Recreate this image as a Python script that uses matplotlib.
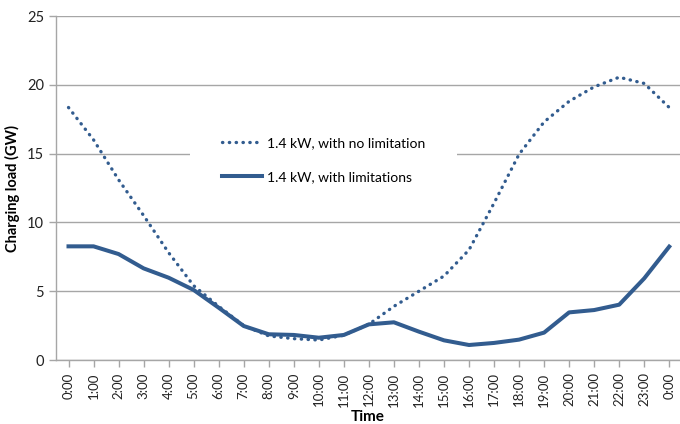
import matplotlib
matplotlib.use("Agg")
import matplotlib.pyplot as plt

plt.rcParams['font.family'] = ['Lato', 'DejaVu Sans']

hours = ["0:00", "1:00", "2:00", "3:00", "4:00", "5:00", "6:00", "7:00", "8:00",
         "9:00", "10:00", "11:00", "12:00", "13:00", "14:00", "15:00", "16:00",
         "17:00", "18:00", "19:00", "20:00", "21:00", "22:00", "23:00", "0:00"]

no_limitation = [18.35, 16.0, 13.1, 10.5, 7.8, 5.4, 3.9, 2.5, 1.75, 1.55, 1.45,
                 1.8, 2.6, 3.9, 5.0, 6.1, 8.0, 11.4, 14.95, 17.3, 18.8, 19.85,
                 20.55, 20.1, 18.35]

with_limitations = [8.26, 8.26, 7.7, 6.66, 5.98, 5.09, 3.8, 2.47, 1.87, 1.82, 1.62,
                    1.82, 2.59, 2.74, 2.06, 1.43, 1.09, 1.24, 1.48, 1.99, 3.46,
                    3.63, 4.02, 5.93, 8.24]

labels = ["1.4 kW, with no limitation", "1.4 kW, with limitations"]

line_color = "#325C8F"
grid_color = "#A6A6A6"

fig = plt.figure(figsize=(6.8, 4.24), dpi=100)
ax = fig.add_axes([56 / 680, 64 / 424, 624 / 680, 344 / 424])

x = list(range(len(hours)))
ax.plot(x, no_limitation, color=line_color, linewidth=2.4,
        linestyle=(0, (0.1, 1.95)), dash_capstyle="round", label=labels[0], zorder=3)
ax.plot(x, with_limitations, color=line_color, linewidth=2.9,
        solid_joinstyle="round", label=labels[1], zorder=4)

ax.set_xlim(-0.5, 24.43)
ax.set_ylim(0, 25)
ax.set_yticks([0, 5, 10, 15, 20, 25])
ax.set_xticks(x)
ax.set_xticklabels(hours, rotation=90)

ax.yaxis.grid(True, color=grid_color, linewidth=1.0)
ax.set_axisbelow(True)
for side in ("top", "right"):
    ax.spines[side].set_visible(False)
for side in ("left", "bottom"):
    ax.spines[side].set_color(grid_color)
    ax.spines[side].set_linewidth(1.0)
ax.tick_params(axis="both", colors=grid_color, length=5, width=1.0,
               labelcolor="#222222", labelsize=10.5)
ax.tick_params(axis="x", pad=4, labelsize=9.5)

ax.set_ylabel("Charging load (GW)", fontsize=10.5, fontweight="bold")
ax.yaxis.set_label_coords(-0.058, 0.5)
fig.text((56 + 680) / 2 / 680, 1 - 417 / 424, "Time", fontsize=11,
         fontweight="bold", ha="center", va="center")

leg = ax.legend(loc="center", bbox_to_anchor=(0.4287, 0.581), fontsize=10,
                frameon=True, facecolor="white", edgecolor="none", framealpha=1.0,
                fancybox=False, borderpad=2.3, handlelength=2.9, handletextpad=0.35,
                labelspacing=1.6)
leg.set_zorder(5)

fig.savefig("out.png", dpi=100)
